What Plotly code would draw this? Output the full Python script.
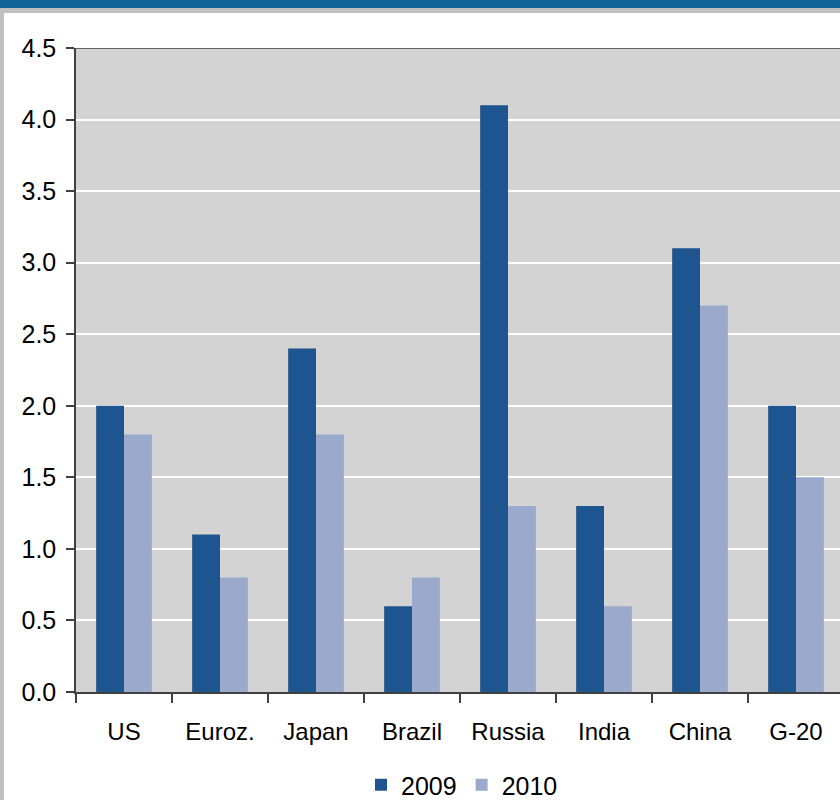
import plotly.graph_objects as go

categories = ["US", "Euroz.", "Japan", "Brazil", "Russia", "India", "China", "G-20"]
values_2009 = [2.0, 1.1, 2.4, 0.6, 4.1, 1.3, 3.1, 2.0]
values_2010 = [1.8, 0.8, 1.8, 0.8, 1.3, 0.6, 2.7, 1.5]
y_ticks = [0.0, 0.5, 1.0, 1.5, 2.0, 2.5, 3.0, 3.5, 4.0, 4.5]

W, H = 840, 800
L, T, B = 76, 48, 692  # plot area pixel edges
R = 840

def px(x):
    return (x - L) / (R - L)

def py(y):
    return (B - y) / (B - T)

FAMILY = "Liberation Sans, Arial, sans-serif"
font_x = dict(family=FAMILY, size=24, color="#000000")
font_y = dict(family=FAMILY, size=25, color="#000000")
font_leg = dict(family=FAMILY, size=25, color="#000000")

fig = go.Figure()
fig.add_trace(go.Bar(x=categories, y=values_2009, name="2009",
                     marker=dict(color="#1F558E", line=dict(width=0))))
fig.add_trace(go.Bar(x=categories, y=values_2010, name="2010",
                     marker=dict(color="#9AA9CC", line=dict(width=0))))

shapes = [
    # header band and frame strips
    dict(type="rect", xref="paper", yref="paper", x0=px(0), x1=px(W), y0=py(0), y1=py(8),
         fillcolor="#116496", line=dict(width=0), layer="above"),
    dict(type="rect", xref="paper", yref="paper", x0=px(0), x1=px(W), y0=py(8), y1=py(13),
         fillcolor="#C0C0C0", line=dict(width=0), layer="above"),
    dict(type="rect", xref="paper", yref="paper", x0=px(0), x1=px(4), y0=py(8), y1=py(H),
         fillcolor="#C0C0C0", line=dict(width=0), layer="above"),
    # top border of the plot area
    dict(type="line", xref="paper", yref="y", x0=0, x1=1, y0=4.5, y1=4.5,
         line=dict(color="#404040", width=1.5), layer="above"),
]

fig.update_layout(
    width=W, height=H,
    margin=dict(l=L, r=W - R, t=T, b=H - B, pad=0, autoexpand=False),
    paper_bgcolor="#FFFFFF",
    plot_bgcolor="#D3D3D3",
    font=font_x,
    barmode="group",
    bargap=0.42,
    bargroupgap=0,
    showlegend=True,
    legend=dict(orientation="h", xref="container", yref="container",
                x=462 / W, xanchor="center", y=1 - 785 / H, yanchor="middle",
                font=font_leg, traceorder="normal",
                bgcolor="rgba(0,0,0,0)", itemwidth=30, tracegroupgap=0),
    shapes=shapes,
    xaxis=dict(
        range=[-0.5, -0.5 + (R - L) / 96],
        showgrid=False, zeroline=False, automargin=False,
        showline=True, linecolor="#404040", linewidth=1.5,
        ticks="outside", ticklen=9, tickcolor="#404040", tickwidth=1.5,
        tickson="boundaries", ticklabelstandoff=17,
        tickfont=font_x,
    ),
    yaxis=dict(
        range=[0, 4.5], automargin=False,
        tickvals=y_ticks, ticktext=[f"{v:.1f}" for v in y_ticks],
        showgrid=True, gridcolor="#FFFFFF", gridwidth=2,
        zeroline=False,
        showline=True, linecolor="#404040", linewidth=1.5,
        ticks="outside", ticklen=8, tickcolor="#404040", tickwidth=1.5,
        ticklabelstandoff=5,
        tickfont=font_y,
    ),
)

fig.write_html("out.html")
